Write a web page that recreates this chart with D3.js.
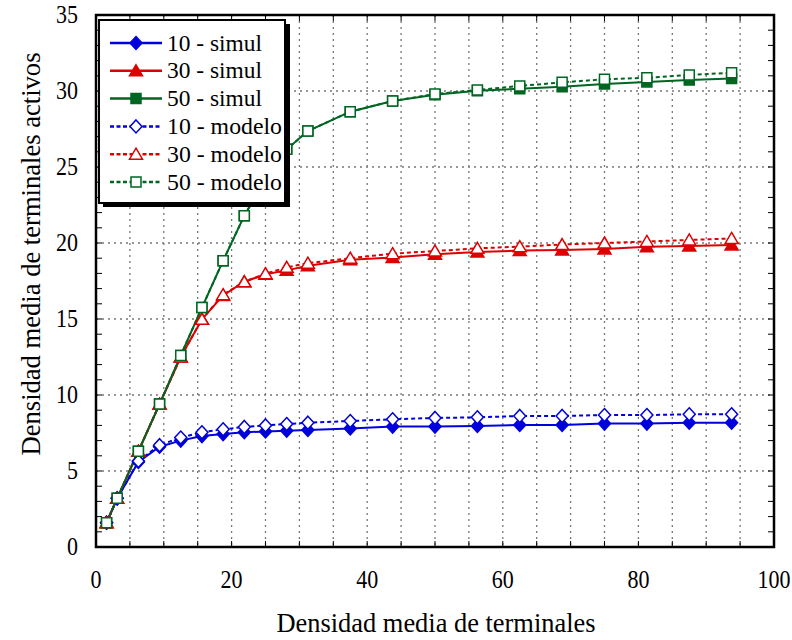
<!DOCTYPE html>
<html><head><meta charset="utf-8">
<script src="https://cdn.jsdelivr.net/npm/d3@7/dist/d3.min.js"></script>
<style>body{margin:0;background:#fff}svg{display:block}</style>
</head><body>
<svg id="chart" width="792" height="640"></svg>
<script>
const xValues = [1.5625, 3.125, 6.25, 9.375, 12.5, 15.625, 18.75, 21.875, 25, 28.125, 31.25, 37.5, 43.75, 50, 56.25, 62.5, 68.75, 75, 81.25, 87.5, 93.75];
const sim10 = [1.6, 3.2, 5.6, 6.6, 7.0, 7.3, 7.43, 7.55, 7.6, 7.65, 7.7, 7.8, 7.92, 7.92, 7.96, 8.03, 8.03, 8.12, 8.12, 8.18, 8.18];
const sim30 = [1.6, 3.2, 6.3, 9.4, 12.5, 14.98, 16.55, 17.45, 17.94, 18.2, 18.5, 18.9, 19.05, 19.26, 19.4, 19.5, 19.54, 19.6, 19.76, 19.8, 19.87];
const sim50 = [1.6, 3.2, 6.3, 9.4, 12.6, 15.75, 18.84, 21.8, 24.2, 26.16, 27.37, 28.64, 29.34, 29.75, 30.02, 30.15, 30.28, 30.46, 30.6, 30.72, 30.83];
const mod10 = [1.6, 3.2, 5.65, 6.7, 7.2, 7.55, 7.74, 7.9, 8.0, 8.09, 8.18, 8.29, 8.4, 8.49, 8.53, 8.62, 8.62, 8.68, 8.68, 8.73, 8.73];
const mod30 = [1.6, 3.2, 6.3, 9.4, 12.5, 14.98, 16.6, 17.45, 17.98, 18.4, 18.67, 19.0, 19.3, 19.47, 19.65, 19.76, 19.9, 20.0, 20.1, 20.2, 20.3];
const mod50 = [1.6, 3.2, 6.3, 9.4, 12.6, 15.75, 18.84, 21.8, 24.2, 26.16, 27.37, 28.64, 29.34, 29.8, 30.07, 30.33, 30.57, 30.77, 30.87, 31.05, 31.2];
const xTickLabels = [0, 20, 40, 60, 80, 100];
const yTickLabels = [0, 5, 10, 15, 20, 25, 30, 35];
const seriesNames = ["10 - simul", "30 - simul", "50 - simul", "10 - modelo", "30 - modelo", "50 - modelo"];
const xTitle = "Densidad media de terminales";
const yTitle = "Densidad media de terminales activos";

const BLUE = "#0000dd", RED = "#dd0000", GREEN = "#006622";
const series = [
  {name: seriesNames[0], values: sim10, color: BLUE, shape: "diamond", filled: true, dash: null},
  {name: seriesNames[1], values: sim30, color: RED, shape: "triangle", filled: true, dash: null},
  {name: seriesNames[2], values: sim50, color: GREEN, shape: "square", filled: true, dash: null},
  {name: seriesNames[3], values: mod10, color: BLUE, shape: "diamond", filled: false, dash: "4,3"},
  {name: seriesNames[4], values: mod30, color: RED, shape: "triangle", filled: false, dash: "4,3"},
  {name: seriesNames[5], values: mod50, color: GREEN, shape: "square", filled: false, dash: "4,3"}
];

const L = 96, R = 774, T = 15, B = 547;
const x = d3.scaleLinear().domain([0, 100]).range([L, R]);
const y = d3.scaleLinear().domain([0, 35]).range([B, T]);
const svg = d3.select("#chart");
const FONT = "'Liberation Serif', 'Times New Roman', serif";

// grid
const grid = svg.append("g");
grid.selectAll("line.vx").data(d3.range(5, 100, 5)).enter().append("line")
  .attr("x1", d => x(d)).attr("x2", d => x(d)).attr("y1", T).attr("y2", B)
  .attr("stroke", "#777").attr("stroke-width", 1.3).attr("stroke-dasharray", "2,4");
grid.selectAll("line.hy").data(d3.range(5, 35, 5)).enter().append("line")
  .attr("y1", d => y(d)).attr("y2", d => y(d)).attr("x1", L).attr("x2", R)
  .attr("stroke", "#777").attr("stroke-width", 1.3).attr("stroke-dasharray", "2,4");

// ticks (inward)
const tk = svg.append("g").attr("stroke", "#000").attr("stroke-width", 1);
tk.selectAll("line.yl").data(d3.range(1, 35, 1)).enter().append("line")
  .attr("x1", L).attr("x2", L + 6).attr("y1", d => y(d)).attr("y2", d => y(d));
tk.selectAll("line.yr").data(d3.range(1, 35, 1)).enter().append("line")
  .attr("x1", R).attr("x2", R - 6).attr("y1", d => y(d)).attr("y2", d => y(d));
tk.selectAll("line.xb").data(d3.range(5, 100, 5)).enter().append("line")
  .attr("x1", d => x(d)).attr("x2", d => x(d)).attr("y1", B).attr("y2", B - 6);
tk.selectAll("line.xt").data(d3.range(5, 100, 5)).enter().append("line")
  .attr("x1", d => x(d)).attr("x2", d => x(d)).attr("y1", T).attr("y2", T + 6);

// markers
function markerPath(shape) {
  if (shape === "diamond") return "M0,-6.5L6,0L0,6.5L-6,0Z";
  if (shape === "triangle") return "M0,-6L6.5,5L-6.5,5Z";
  return "M-5,-5H5V5H-5Z";
}
const lineGen = d3.line().x((d, i) => x(xValues[i])).y(d => y(d));
const plot = svg.append("g");
series.forEach(s => {
  plot.append("path").datum(s.values).attr("d", lineGen)
    .attr("fill", "none").attr("stroke", s.color).attr("stroke-width", 2)
    .attr("stroke-dasharray", s.dash);
});
series.forEach(s => {
  plot.append("g").selectAll("path").data(s.values).enter().append("path")
    .attr("d", markerPath(s.shape))
    .attr("transform", (d, i) => `translate(${x(xValues[i])},${y(d)})`)
    .attr("fill", s.filled ? s.color : "#fff")
    .attr("stroke", s.color).attr("stroke-width", 1.5);
});

// frame
svg.append("rect").attr("x", L).attr("y", T).attr("width", R - L).attr("height", B - T)
  .attr("fill", "none").attr("stroke", "#000").attr("stroke-width", 2.5);

// tick labels
function stretchedText(g, tx, ty, txt, size, sy, anchor) {
  return g.append("text").attr("transform", `translate(${tx},${ty}) scale(1,${sy})`)
    .attr("font-family", FONT).attr("font-size", size).attr("text-anchor", anchor).text(txt);
}
const lab = svg.append("g").attr("fill", "#000");
xTickLabels.forEach(v => stretchedText(lab, x(v), 588, v, 22, 1.15, "middle"));
yTickLabels.forEach(v => stretchedText(lab, 78, y(v) + 8, v, 22, 1.15, "end"));

// axis titles
svg.append("text").attr("transform", "translate(436,632) scale(1,1.15)")
  .attr("font-family", FONT).attr("font-size", 23).attr("text-anchor", "middle")
  .attr("textLength", 319).attr("lengthAdjust", "spacingAndGlyphs").text(xTitle);
svg.append("text").attr("transform", "translate(40,254) rotate(-90) scale(1,1.15)")
  .attr("font-family", FONT).attr("font-size", 23).attr("text-anchor", "middle")
  .attr("textLength", 403).attr("lengthAdjust", "spacingAndGlyphs").text(yTitle);

// legend
const lg = svg.append("g");
lg.append("rect").attr("x", 103).attr("y", 24).attr("width", 187).attr("height", 183).attr("fill", "#000");
lg.append("rect").attr("x", 99).attr("y", 20).attr("width", 186).attr("height", 183)
  .attr("fill", "#fff").attr("stroke", "#000").attr("stroke-width", 2);
series.forEach((s, i) => {
  const cy = 43 + i * 27.8;
  lg.append("line").attr("x1", 110).attr("x2", 162).attr("y1", cy).attr("y2", cy)
    .attr("stroke", s.color).attr("stroke-width", 2.5).attr("stroke-dasharray", s.dash ? "4,2.5" : null);
  lg.append("path").attr("d", markerPath(s.shape)).attr("transform", `translate(136,${cy})`)
    .attr("fill", s.filled ? s.color : "#fff").attr("stroke", s.color).attr("stroke-width", 1.5);
  stretchedText(lg, 167, cy + 7.5, s.name, 22, 1.08, "start")
    .attr("textLength", s.filled ? 95 : 115).attr("lengthAdjust", "spacingAndGlyphs");
});
</script>
</body></html>
